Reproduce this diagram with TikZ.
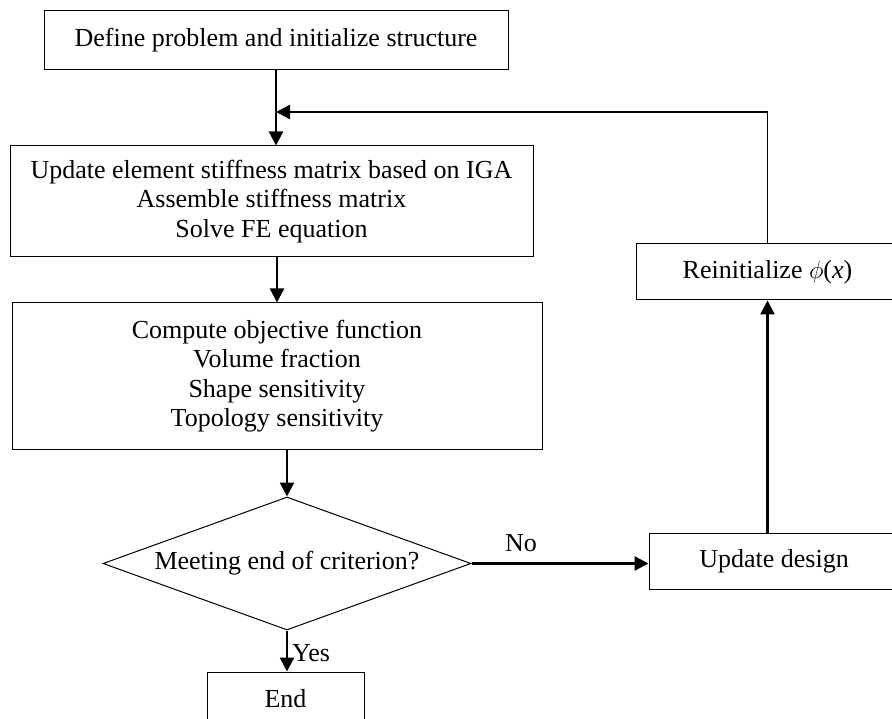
\documentclass[tikz,border=0pt]{standalone}
\usepackage{fontspec}
\setmainfont{Liberation Serif}
\usetikzlibrary{shapes.geometric,arrows.meta}
\begin{document}
\begin{tikzpicture}[x=1pt, y=-1pt,
  box/.style={draw, line width=1pt, align=center, inner sep=0pt, font=\fontsize{26}{29.5}\selectfont},
  flow/.style={line width=2.4pt, -{Triangle[length=14pt, width=14pt]}},
  lbl/.style={inner sep=0pt, font=\fontsize{26}{29.5}\selectfont}]
\useasboundingbox (0,0) rectangle (892,719);
\clip (0,0) rectangle (892,719);

% Main column
\node[box, minimum width=464pt, minimum height=59pt] (define) at (276,40.5) {Define problem and initialize structure};
\node[box, minimum width=523pt, minimum height=111pt] (update) at (271.5,201.5) {Update element stiffness matrix based on IGA\\Assemble stiffness matrix\\Solve FE equation};
\node[box, minimum width=530pt, minimum height=146pt] (compute) at (277,376) {Compute objective function\\Volume fraction\\Shape sensitivity\\Topology sensitivity};
\node[box, diamond, shape aspect=2.77, minimum width=368pt, minimum height=133pt] (crit) at (287,563.5) {Meeting end of criterion?};
\node[box, minimum width=157pt, minimum height=54pt] (endbox) at (285.5,699) {End};

% Loop back
\node[box, minimum width=250pt, minimum height=56pt] (design) at (774,561) {Update design};
\node[box, minimum width=263pt, minimum height=56pt] (reinit) at (767.5,272) {Reinitialize \(\phi\)(\textit{x})};
\coordinate (join) at (276,112);
\coordinate (corner) at (reinit.north |- join);

% Arrows
\draw[flow] (define.south) -- (define.south |- update.north);
\draw[flow] (update.south -| compute.north) -- (compute.north);
\draw[flow] (compute.south -| crit.north) -- (crit.north);
\draw[flow] (crit.east) -- (crit.east -| design.west);
\draw[flow] (crit.south) -- (crit.south |- endbox.north);
\draw[flow] (design.north -| reinit.south) -- (reinit.south);
\draw[line width=1pt] (reinit.north) -- (corner);
\draw[flow] (corner) -- (join);

% Labels
\node[lbl] (no) at (521,543) {No};
\node[lbl, anchor=west] (yes) at (292,653) {Yes};
\end{tikzpicture}
\end{document}
